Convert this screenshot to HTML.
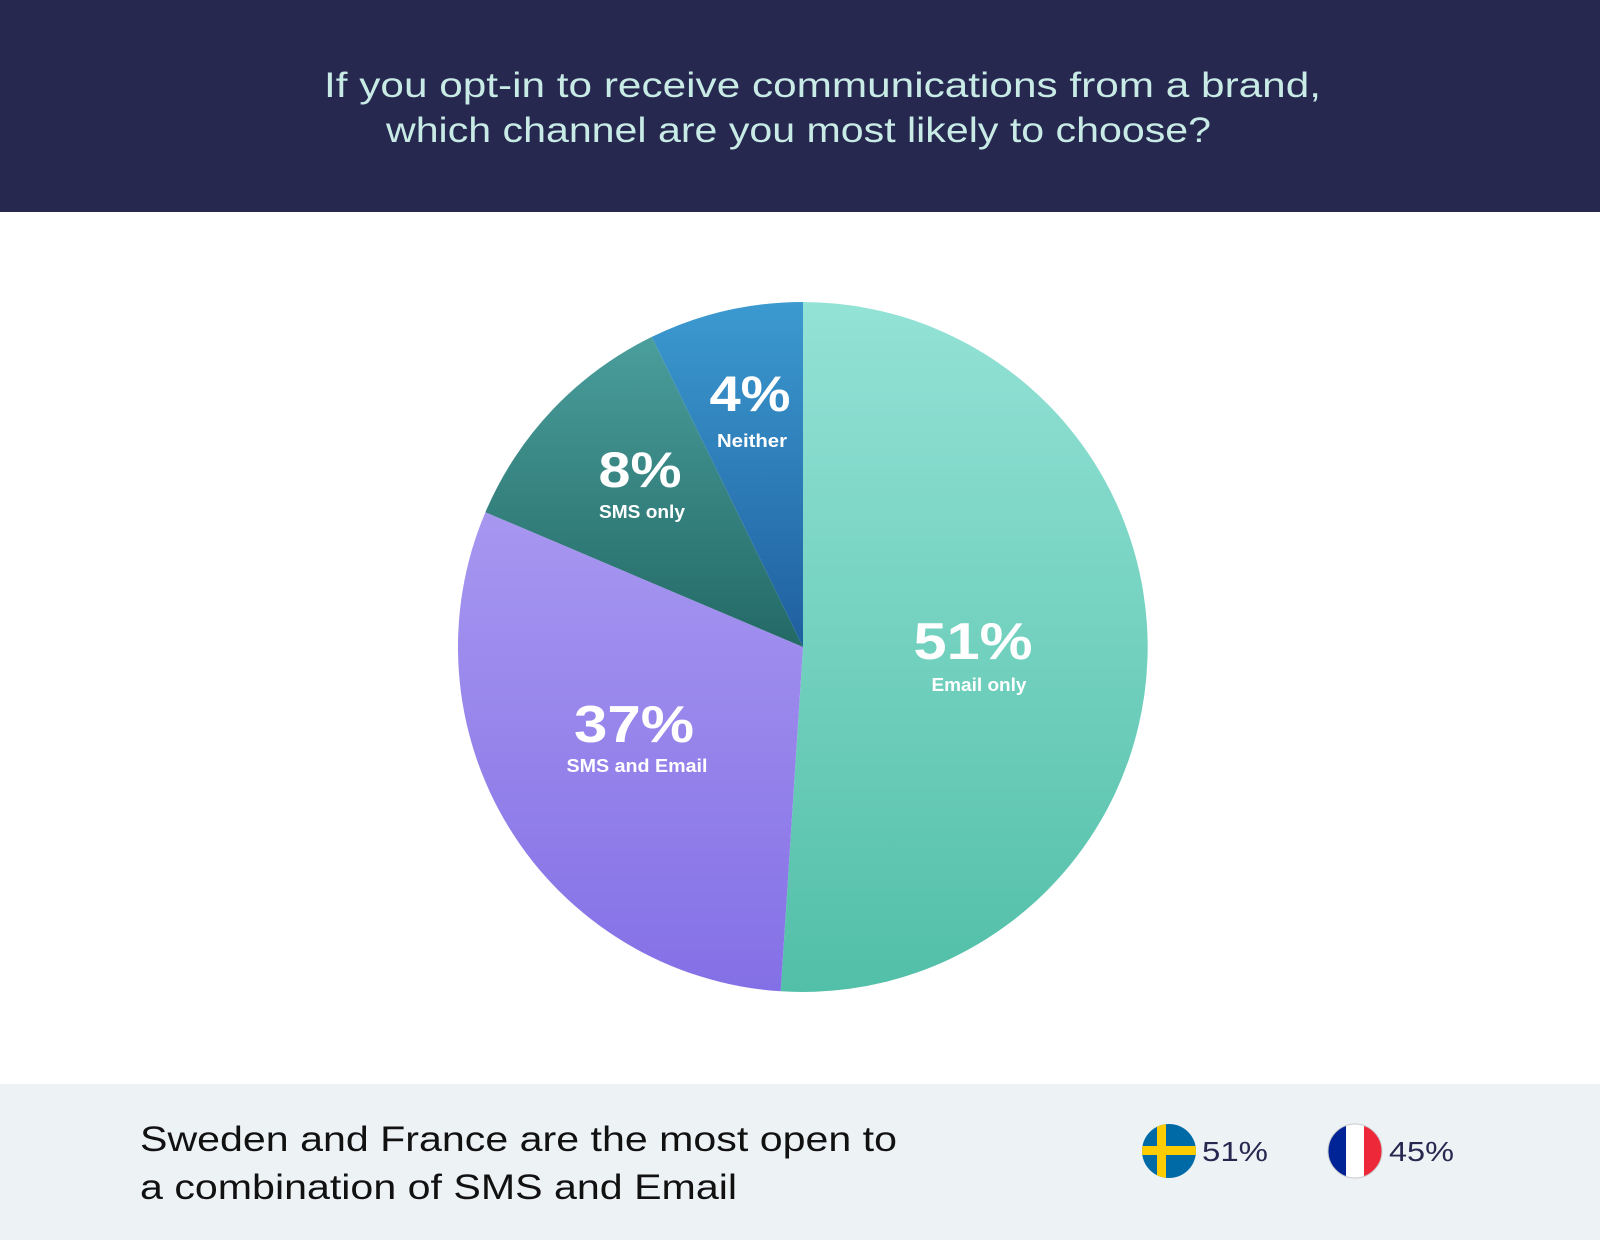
<!DOCTYPE html>
<html><head><meta charset="utf-8"><style>
html,body{margin:0;padding:0;width:1600px;height:1240px;overflow:hidden;background:#fff;font-family:"Liberation Sans",sans-serif}
</style></head><body>
<svg width="1600" height="1240" viewBox="0 0 1600 1240" xmlns="http://www.w3.org/2000/svg">
<defs>
<linearGradient id="ge" gradientUnits="userSpaceOnUse" x1="0" y1="302" x2="0" y2="992"><stop offset="0" stop-color="#93e2d6"/><stop offset="1" stop-color="#52bfa8"/></linearGradient>
<linearGradient id="gp" gradientUnits="userSpaceOnUse" x1="0" y1="512" x2="0" y2="992"><stop offset="0" stop-color="#a797f0"/><stop offset="1" stop-color="#8470e6"/></linearGradient>
<linearGradient id="gt" gradientUnits="userSpaceOnUse" x1="0" y1="337" x2="0" y2="647"><stop offset="0" stop-color="#4a9e9c"/><stop offset="1" stop-color="#236966"/></linearGradient>
<linearGradient id="gb" gradientUnits="userSpaceOnUse" x1="0" y1="302" x2="0" y2="647"><stop offset="0" stop-color="#3c9ad0"/><stop offset="1" stop-color="#1f5fa0"/></linearGradient>
<clipPath id="c1"><circle cx="1169" cy="1151" r="27"/></clipPath>
<clipPath id="c2"><circle cx="1355" cy="1151" r="27"/></clipPath>
</defs>
<rect x="0" y="0" width="1600" height="212" fill="#262850"/>
<g fill="#c8ebe6" font-size="35">
<text x="324" y="97" textLength="997" lengthAdjust="spacingAndGlyphs">If you opt-in to receive communications from a brand,</text>
<text x="386" y="142" textLength="825" lengthAdjust="spacingAndGlyphs">which channel are you most likely to choose?</text>
</g>
<g transform="translate(3,0)">
<path d="M800,647 L800,302 A345,345 0 1,1 777.7,991.3 Z" fill="url(#ge)"/>
<path d="M800,647 L777.7,991.3 A345,345 0 0,1 482.4,512.2 Z" fill="url(#gp)"/>
<path d="M800,647 L482.4,512.2 A345,345 0 0,1 648.8,336.9 Z" fill="url(#gt)"/>
<path d="M800,647 L648.8,336.9 A345,345 0 0,1 800,302 Z" fill="url(#gb)"/>
</g>
<g fill="#fff" font-weight="bold" text-anchor="middle" lengthAdjust="spacingAndGlyphs">
<text x="750" y="411" font-size="50" textLength="81" lengthAdjust="spacingAndGlyphs">4%</text>
<text x="752" y="447" font-size="18" textLength="70" lengthAdjust="spacingAndGlyphs">Neither</text>
<text x="640" y="487" font-size="50" textLength="83" lengthAdjust="spacingAndGlyphs">8%</text>
<text x="642" y="518" font-size="18" textLength="86" lengthAdjust="spacingAndGlyphs">SMS only</text>
<text x="973" y="659" font-size="52" textLength="119" lengthAdjust="spacingAndGlyphs">51%</text>
<text x="979" y="691" font-size="18" textLength="95" lengthAdjust="spacingAndGlyphs">Email only</text>
<text x="634" y="742" font-size="52" textLength="120" lengthAdjust="spacingAndGlyphs">37%</text>
<text x="637" y="772" font-size="18" textLength="141" lengthAdjust="spacingAndGlyphs">SMS and Email</text>
</g>
<rect x="0" y="1084" width="1600" height="156" fill="#edf2f5"/>
<g fill="#111" font-size="35">
<text x="140" y="1151" textLength="757" lengthAdjust="spacingAndGlyphs">Sweden and France are the most open to</text>
<text x="140" y="1199" textLength="597" lengthAdjust="spacingAndGlyphs">a combination of SMS and Email</text>
</g>
<g clip-path="url(#c1)">
<rect x="1140" y="1122" width="60" height="60" fill="#006aa7"/>
<rect x="1157" y="1122" width="9" height="60" fill="#fecc00"/>
<rect x="1140" y="1146" width="60" height="9" fill="#fecc00"/>
</g>
<g clip-path="url(#c2)">
<rect x="1326" y="1122" width="20" height="60" fill="#002395"/>
<rect x="1346" y="1122" width="18" height="60" fill="#fff"/>
<rect x="1364" y="1122" width="20" height="60" fill="#ed2939"/>
</g>
<circle cx="1355" cy="1151" r="27" fill="none" stroke="#ccc" stroke-width="1"/>
<g fill="#262850" font-size="28">
<text x="1202" y="1161" textLength="66" lengthAdjust="spacingAndGlyphs">51%</text>
<text x="1389" y="1161" textLength="65" lengthAdjust="spacingAndGlyphs">45%</text>
</g>
</svg>
</body></html>
